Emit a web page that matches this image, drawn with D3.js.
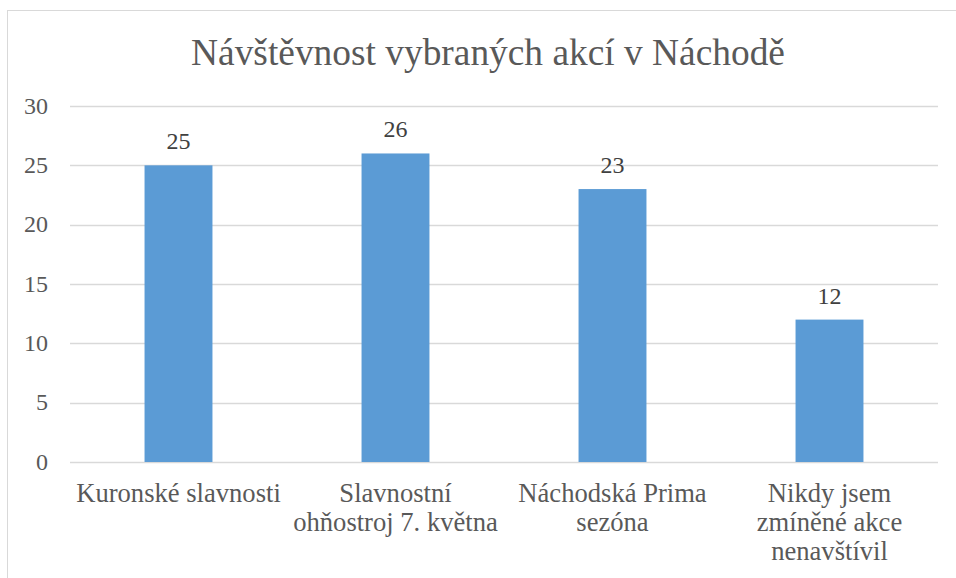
<!DOCTYPE html>
<html>
<head>
<meta charset="utf-8">
<script src="https://d3js.org/d3.v7.min.js"></script>
</head>
<body style="margin:0">
<script>
const title = "Návštěvnost vybraných akcí v Náchodě";
const categories = [
  ["Kuronské slavnosti"],
  ["Slavnostní", "ohňostroj 7. května"],
  ["Náchodská Prima", "sezóna"],
  ["Nikdy jsem", "zmíněné akce", "nenavštívil"]
];
const values = [25, 26, 23, 12];
const yTicks = [0, 5, 10, 15, 20, 25, 30];

const font = "'Liberation Serif'";
const width = 956, height = 578;
const plotLeft = 70, plotRight = 938, plotTop = 106, plotBottom = 462;

const svg = d3.select("body").append("svg")
  .attr("width", width)
  .attr("height", height);

svg.append("rect")
  .attr("x", 7.5).attr("y", 10.5)
  .attr("width", 960).attr("height", 580)
  .attr("fill", "#fff")
  .attr("stroke", "#d9d9d9");

const x = d3.scaleBand()
  .domain(d3.range(values.length))
  .range([plotLeft, plotRight])
  .paddingInner(0.687)
  .paddingOuter(0.3435);

const y = d3.scaleLinear()
  .domain([0, 30])
  .range([plotBottom, plotTop]);

// gridlines
svg.append("g")
  .selectAll("line")
  .data(yTicks)
  .enter()
  .append("line")
  .attr("x1", plotLeft).attr("x2", plotRight)
  .attr("y1", d => Math.round(y(d)) + 0.5)
  .attr("y2", d => Math.round(y(d)) + 0.5)
  .attr("stroke", "#d9d9d9")
  .attr("stroke-width", 1.5);

// y axis labels
const yAxis = svg.append("g")
  .attr("transform", "translate(" + (plotLeft - 22) + ",0)")
  .call(d3.axisLeft(y).tickValues(yTicks).tickSize(0).tickPadding(0));
yAxis.select(".domain").remove();
yAxis.attr("font-family", null).attr("font-size", null);
yAxis.selectAll("text")
  .attr("dy", "0.3em")
  .attr("fill", "#595959")
  .style("font-size", "24px")
  .style("font-family", font);

// bars
svg.append("g")
  .selectAll("rect")
  .data(values)
  .enter()
  .append("rect")
  .attr("x", (d, i) => x(i))
  .attr("y", d => y(d))
  .attr("width", x.bandwidth())
  .attr("height", d => y(0) - y(d))
  .attr("fill", "#5b9bd5");

// value labels
svg.append("g")
  .selectAll("text")
  .data(values)
  .enter()
  .append("text")
  .attr("x", (d, i) => x(i) + x.bandwidth() / 2)
  .attr("y", d => y(d) - 16)
  .attr("text-anchor", "middle")
  .attr("fill", "#404040")
  .style("font-family", font)
  .style("font-size", "24px")
  .text(d => d);

// category labels
const cat = svg.append("g")
  .selectAll("text")
  .data(categories)
  .enter()
  .append("text")
  .attr("text-anchor", "middle")
  .attr("fill", "#595959")
  .style("font-family", font)
  .style("font-size", "26.6px");

cat.selectAll("tspan")
  .data((d, i) => d.map(line => ({ line: line, i: i })))
  .enter()
  .append("tspan")
  .attr("x", d => x(d.i) + x.bandwidth() / 2)
  .attr("y", (d, j) => 502 + j * 29)
  .text(d => d.line);

// title
svg.append("text")
  .attr("x", 488)
  .attr("y", 65)
  .attr("text-anchor", "middle")
  .attr("fill", "#595959")
  .style("font-family", font)
  .style("font-size", "37.4px")
  .text(title);
</script>
</body>
</html>
